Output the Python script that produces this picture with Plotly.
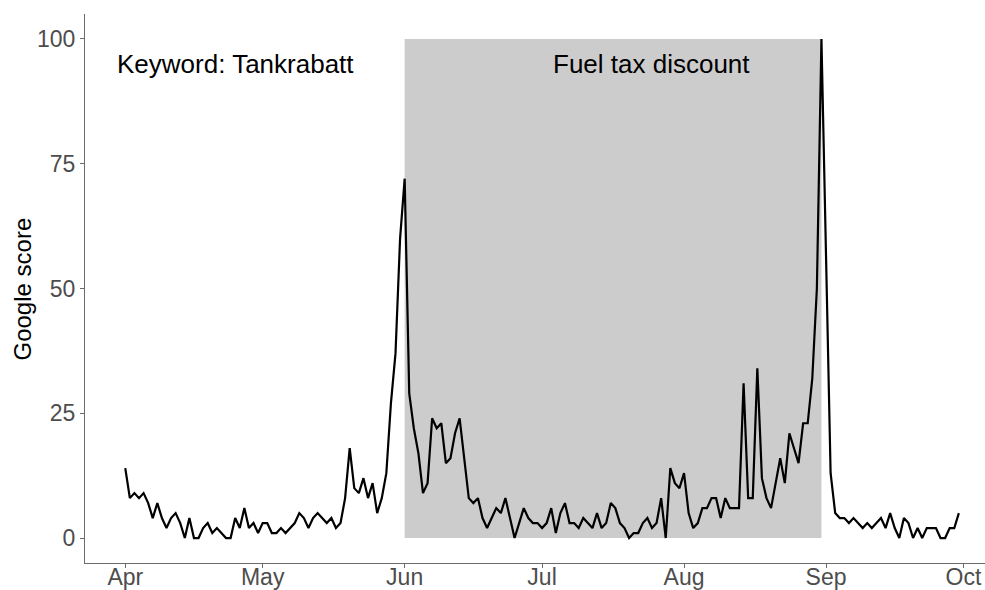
import pandas as pd
import plotly.graph_objects as go

start_date = "2022-04-01"
google_score = [
    14, 8, 9, 8, 9, 7, 4, 7, 4, 2,
    4, 5, 3, 0, 4, 0, 0, 2, 3, 1,
    2, 1, 0, 0, 4, 2, 6, 2, 3, 1,
    3, 3, 1, 1, 2, 1, 2, 3, 5, 4,
    2, 4, 5, 4, 3, 4, 2, 3, 8, 18,
    10, 9, 12, 8, 11, 5, 8, 13, 27, 37,
    60, 72, 29, 22, 17, 9, 11, 24, 22, 23,
    15, 16, 21, 24, 16, 8, 7, 8, 4, 2,
    4, 6, 5, 8, 4, 0, 3, 6, 4, 3,
    3, 2, 3, 6, 1, 5, 7, 3, 3, 2,
    4, 3, 2, 5, 2, 3, 7, 6, 3, 2,
    0, 1, 1, 3, 4, 2, 3, 8, 0, 14,
    11, 10, 13, 5, 2, 3, 6, 6, 8, 8,
    4, 8, 6, 6, 6, 31, 8, 8, 34, 12,
    8, 6, 11, 16, 11, 21, 18, 15, 23, 23,
    32, 50, 100, 57, 13, 5, 4, 4, 3, 4,
    3, 2, 3, 2, 3, 4, 2, 5, 2, 0,
    4, 3, 0, 2, 0, 2, 2, 2, 0, 0,
    2, 2, 5,
]
dates = pd.date_range(start_date, periods=len(google_score), freq="D")

shade_start = "2022-06-01"
shade_end = "2022-08-31"
shade_low, shade_high = 0, 100

y_ticks = [0, 25, 50, 75, 100]
month_ticks = ["2022-04-01", "2022-05-01", "2022-06-01", "2022-07-01",
               "2022-08-01", "2022-09-01", "2022-10-01"]
month_labels = ["Apr", "May", "Jun", "Jul", "Aug", "Sep", "Oct"]

label_keyword = "Keyword: Tankrabatt"
label_keyword_x = "2022-04-25"
label_policy = "Fuel tax discount"
label_policy_x = "2022-07-25"
label_y = 95

FONT = "Liberation Sans, Arial, sans-serif"
AXIS_COL = "#6b6b6b"

fig = go.Figure()
fig.add_shape(type="rect", xref="x", yref="y",
              x0=shade_start, x1=shade_end, y0=shade_low, y1=shade_high,
              fillcolor="#cccccc", line=dict(width=0), layer="below")
fig.add_trace(go.Scatter(x=dates, y=google_score, mode="lines",
                         line=dict(color="black", width=2.2),
                         hoverinfo="skip", showlegend=False))

fig.add_annotation(x=label_keyword_x, y=label_y, xref="x", yref="y",
                   text=label_keyword, showarrow=False,
                   font=dict(family=FONT, size=26, color="black"))
fig.add_annotation(x=label_policy_x, y=label_y, xref="x", yref="y",
                   text=label_policy, showarrow=False,
                   font=dict(family=FONT, size=26, color="black"))
fig.add_annotation(x=-0.0689, y=0.5, xref="paper", yref="paper",
                   xanchor="center", yanchor="middle",
                   text="Google score", textangle=-90, showarrow=False,
                   font=dict(family=FONT, size=24, color="black"))

fig.update_layout(
    width=985, height=590,
    margin=dict(l=85, r=0, t=14, b=27, autoexpand=False),
    paper_bgcolor="white", plot_bgcolor="white",
    showlegend=False,
    xaxis=dict(
        range=["2022-03-23 05:00", "2022-10-05 17:00"],
        tickvals=month_ticks, ticktext=month_labels,
        showgrid=False, zeroline=False, automargin=False,
        showline=True, linecolor=AXIS_COL, linewidth=1.3,
        ticks="outside", ticklen=4, tickwidth=1.3, tickcolor=AXIS_COL,
        ticklabelstandoff=-11,
        tickfont=dict(family=FONT, size=23, color="#4d4d4d"),
    ),
    yaxis=dict(
        range=[-5, 105],
        tickvals=y_ticks,
        showgrid=False, zeroline=False, automargin=False,
        showline=True, linecolor=AXIS_COL, linewidth=1.3,
        ticks="outside", ticklen=4, tickwidth=1.3, tickcolor=AXIS_COL,
        tickfont=dict(family=FONT, size=23, color="#4d4d4d"),
    ),
)

fig.write_html(
    "out.html",
    config={"displayModeBar": False},
    post_script="document.body.style.margin='0';"
                "document.body.style.overflow='hidden';",
)
